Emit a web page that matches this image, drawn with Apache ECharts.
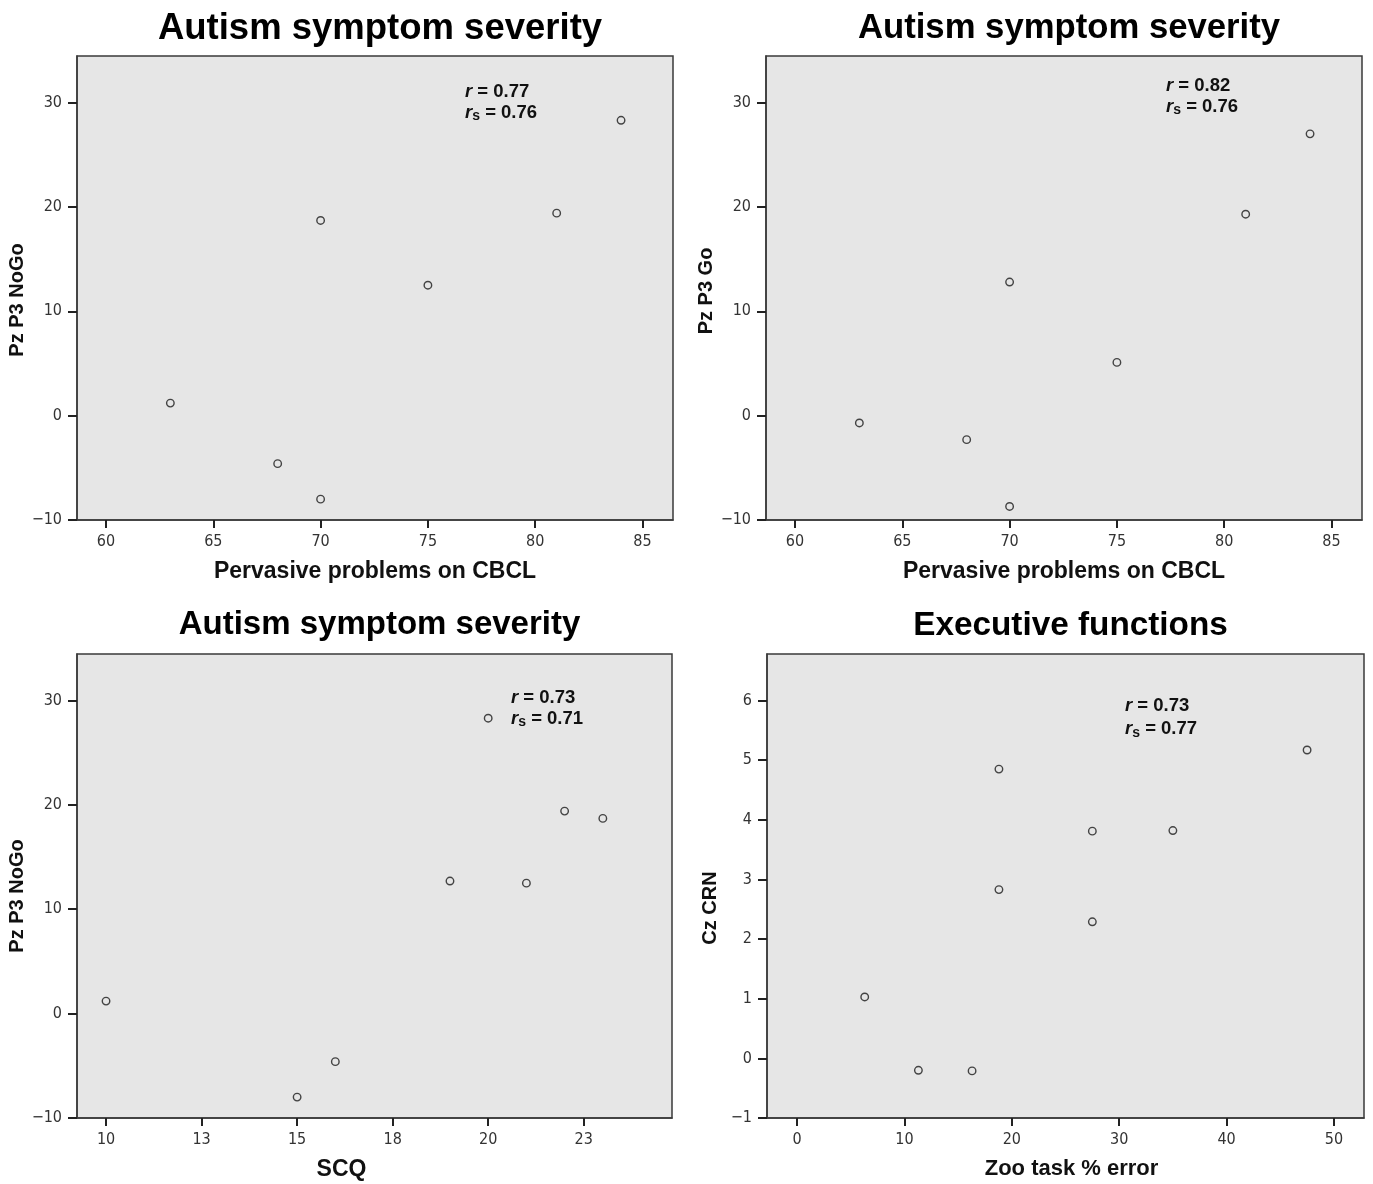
<!DOCTYPE html>
<html>
<head>
<meta charset="utf-8">
<script src="https://cdn.jsdelivr.net/npm/echarts@6/dist/echarts.min.js"></script>
<style>html,body{margin:0;padding:0;background:#fff}#c{width:1373px;height:1184px}</style>
</head>
<body>
<div id="c"></div>
<script>
// Panel A: Pervasive problems on CBCL vs Pz P3 NoGo
const cbclA = [63, 68, 70, 70, 75, 81, 84];
const p3NoGoA = [1.2, -4.6, -8.0, 18.7, 12.5, 19.4, 28.3];
// Panel B: Pervasive problems on CBCL vs Pz P3 Go
const cbclB = [63, 68, 70, 70, 75, 81, 84];
const p3GoB = [-0.7, -2.3, -8.7, 12.8, 5.1, 19.3, 27.0];
// Panel C: SCQ vs Pz P3 NoGo
const scqC = [10, 15, 16, 19, 20, 21, 22, 23];
const p3NoGoC = [1.2, -8.0, -4.6, 12.7, 28.3, 12.5, 19.4, 18.7];
// Panel D: Zoo task % error vs Cz CRN
const zooD = [6.3, 11.3, 16.3, 18.8, 18.8, 27.5, 27.5, 35.0, 47.5];
const crnD = [1.03, -0.2, -0.21, 4.85, 2.83, 3.81, 2.29, 3.82, 5.17];

// tick values
const cbclTicks = [60, 65, 70, 75, 80, 85];
const p3Ticks = [-10, 0, 10, 20, 30];
const scqTicks = [10, 12.5, 15, 17.5, 20, 22.5];
const zooTicks = [0, 10, 20, 30, 40, 50];
const crnTicks = [-1, 0, 1, 2, 3, 4, 5, 6];

const titles = ['Autism symptom severity', 'Autism symptom severity', 'Autism symptom severity', 'Executive functions'];
const xNames = ['Pervasive problems on CBCL', 'Pervasive problems on CBCL', 'SCQ', 'Zoo task % error'];
const yNames = ['Pz P3 NoGo', 'Pz P3 Go', 'Pz P3 NoGo', 'Cz CRN'];
const rVals = ['0.77', '0.82', '0.73', '0.73'];
const rsVals = ['0.76', '0.76', '0.71', '0.77'];

const FONT = 'Liberation Sans, Arial, sans-serif';
const NARROW = '"Liberation Sans Narrow", "Arial Narrow", "DejaVu Sans Condensed", sans-serif';
const grids = [
  {left: 77, top: 56, width: 596, height: 464},
  {left: 766, top: 56, width: 596, height: 464},
  {left: 77, top: 654, width: 595, height: 464},
  {left: 767, top: 654, width: 597, height: 464}
];
const titleSizes = [36.5, 34.7, 33, 33.3];
const titleTops = [5, 6, 603, 604];
const xNameSizes = [23, 23, 23, 22];
const xNameShift = [0, 0, -33, 6];
const yNameShift = [12, 3, 10, 22];
const xRanges = [[58.65, 86.42], [58.65, 86.42], [9.24, 24.81], [-2.8, 52.8]];
const yRanges = [[-10, 34.46], [-10, 34.46], [-10, 34.45], [-1, 6.78]];
const xTickSets = [cbclTicks, cbclTicks, scqTicks, zooTicks];
const yTickSets = [p3Ticks, p3Ticks, p3Ticks, crnTicks];
const xs = [cbclA, cbclB, scqC, zooD];
const ys = [p3NoGoA, p3GoB, p3NoGoC, crnD];
const annotPos = [[465, 81], [1166, 75], [511, 687], [1125, 694]];
const annotLH = [21, 21, 21, 23];

const fmt = v => String(Math.round(v)).replace('-', '\u2212');

const option = {
  backgroundColor: '#fff',
  animation: false,
  title: grids.map((g, i) => ({
    text: titles[i],
    left: g.left + g.width / 2,
    textAlign: 'center',
    top: titleTops[i],
    textStyle: {fontFamily: FONT, fontWeight: 'bold', fontSize: titleSizes[i], color: '#000'}
  })),
  grid: grids.map(g => Object.assign({show: true, backgroundColor: '#e6e6e6', borderColor: '#3a3a3a', borderWidth: 1.5}, g)),
  xAxis: grids.map((g, i) => ({
    type: 'value', gridIndex: i, min: xRanges[i][0], max: xRanges[i][1],
    name: xNames[i], nameLocation: 'middle', nameGap: 40,
    nameTextStyle: {
      fontFamily: FONT, fontWeight: 'bold', fontSize: xNameSizes[i], color: '#111',
      padding: xNameShift[i] < 0 ? [0, -2 * xNameShift[i], 0, 0] : [0, 0, 0, 2 * xNameShift[i]]
    },
    splitLine: {show: false},
    axisLine: {show: true, onZero: false, lineStyle: {color: '#3a3a3a', width: 1.5}},
    axisTick: {show: true, length: 8, customValues: xTickSets[i], lineStyle: {color: '#222', width: 2}},
    axisLabel: {customValues: xTickSets[i], formatter: fmt, fontFamily: NARROW, fontSize: 16, color: '#333', margin: 14}
  })),
  yAxis: grids.map((g, i) => ({
    type: 'value', gridIndex: i, min: yRanges[i][0], max: yRanges[i][1],
    name: yNames[i], nameLocation: 'middle', nameGap: 47, nameRotate: 90,
    nameTextStyle: {
      fontFamily: FONT, fontWeight: 'bold', fontSize: 20, color: '#111',
      padding: [0, 2 * yNameShift[i], 0, 0]
    },
    splitLine: {show: false},
    axisLine: {show: true, onZero: false, lineStyle: {color: '#3a3a3a', width: 1.5}},
    axisTick: {show: true, length: 9, customValues: yTickSets[i], lineStyle: {color: '#222', width: 2}},
    axisLabel: {customValues: yTickSets[i], formatter: fmt, fontFamily: NARROW, fontSize: 16, color: '#333', margin: 15}
  })),
  series: grids.map((g, i) => ({
    type: 'scatter', xAxisIndex: i, yAxisIndex: i,
    data: xs[i].map((x, k) => [x, ys[i][k]]),
    symbol: 'circle', symbolSize: 7.5,
    itemStyle: {color: 'rgba(0,0,0,0)', borderColor: '#1a1a1a', borderWidth: 1.4}
  })),
  graphic: annotPos.map((p, i) => ({
    type: 'text', left: p[0], top: p[1], z: 100,
    style: {
      text: '{i|r} = ' + rVals[i] + '\n{i|r}{s|s} = ' + rsVals[i],
      font: 'bold 18.5px ' + FONT,
      fill: '#111',
      lineHeight: annotLH[i],
      rich: {
        i: {fontStyle: 'italic', fontWeight: 'bold', fontSize: 18.5, fontFamily: FONT, fill: '#111', lineHeight: annotLH[i]},
        s: {fontWeight: 'bold', fontSize: 14, fontFamily: FONT, fill: '#111', lineHeight: annotLH[i], verticalAlign: 'bottom'}
      }
    }
  }))
};

const chart = echarts.init(document.getElementById('c'), null, {renderer: 'canvas'});
chart.setOption(option);
</script>
</body>
</html>
